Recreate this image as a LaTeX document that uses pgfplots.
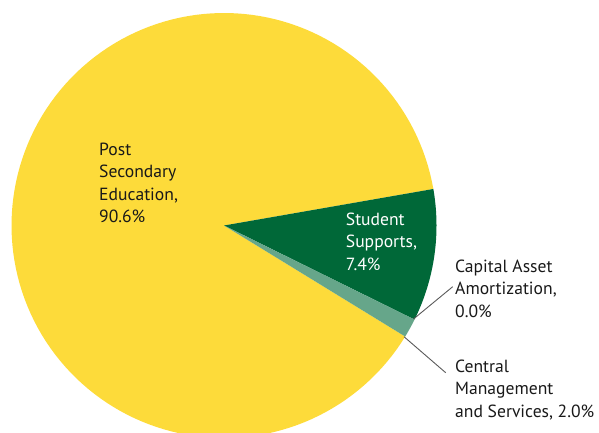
\documentclass[border=0pt]{standalone}
\usepackage{pgfplots}
\pgfplotsset{compat=1.18}
\usepackage{fontspec}
\setmainfont{PT Sans}

\definecolor{ylw}{RGB}{253,219,58}
\definecolor{dgreen}{RGB}{0,104,56}
\definecolor{lgreen}{RGB}{102,166,138}
\definecolor{leader}{RGB}{90,90,90}
\definecolor{txt}{RGB}{25,25,25}

% slice sizes in percent of the circle, as drawn (clockwise from 9.9 deg)
\def\pctStudent{10.05}
\def\pctCapital{0.0}
\def\pctCentral{1.45}
\def\pctPost{88.5}

\def\cx{224}
\def\cy{206.5}
\def\R{212.5}

\pgfmathsetmacro\aA{9.9}
\pgfmathsetmacro\aB{\aA-3.6*\pctStudent}
\pgfmathsetmacro\aC{\aB-3.6*\pctCapital}
\pgfmathsetmacro\aD{\aC-3.6*\pctCentral}
\pgfmathsetmacro\aE{\aD-3.6*\pctPost}

\newcommand\slice[3]{%
  \addplot[fill=#3, draw=none, domain=#1:#2, samples=150, variable=\t]
    ({\cx+\R*cos(\t)},{\cy+\R*sin(\t)}) -- (axis cs:\cx,\cy) -- cycle;}

\tikzset{lbl/.style={font=\fontsize{17.6}{22.5}\selectfont, inner sep=0pt,
  align=left, anchor=west, text=txt}}

\begin{document}
\begin{tikzpicture}
\useasboundingbox (0,0) rectangle (599pt,432pt);
\clip (0,0) rectangle (599pt,432pt);
\begin{axis}[
  at={(0,0)}, anchor=south west,
  scale only axis, width=599pt, height=432pt,
  xmin=0, xmax=599, ymin=0, ymax=432,
  hide axis, clip=true
]
\slice{\aE}{\aD}{ylw}
\slice{\aB}{\aA}{dgreen}
\slice{\aD}{\aC}{lgreen}

\addplot[leader, line width=0.9pt, no marks] coordinates {(413.5,113) (452.7,145.3)};
\addplot[leader, line width=0.9pt, no marks] coordinates {(404,95.3) (445.7,59.3)};

\node[lbl] at (axis cs:99,249.25) {Post\\Secondary\\Education,\\90.6\%};
\node[lbl, text=white] at (axis cs:345.7,190.2) {Student\\Supports,\\7.4\%};
\node[lbl] at (axis cs:455,143.3) {Capital Asset\\Amortization,\\0.0\%};
\node[lbl] at (axis cs:455,42.2) {Central\\Management\\and Services, 2.0\%};
\end{axis}
\end{tikzpicture}
\end{document}
